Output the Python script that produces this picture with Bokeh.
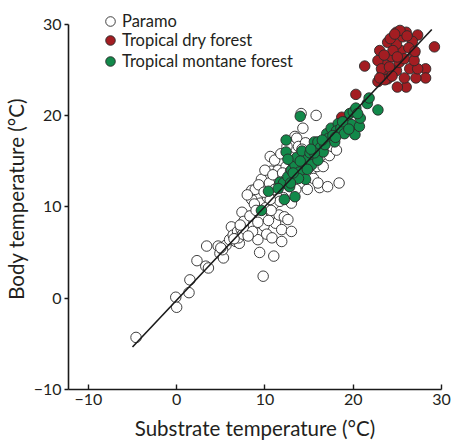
from bokeh.plotting import figure
from bokeh.models import Range1d, Legend, LegendItem, FixedTicker
from bokeh.embed import file_html
from bokeh.resources import INLINE

# ---- data ----
paramo_x = [-4.6, -0.1, 0.0, 1.5, 1.4, 2.3, 3.4, 3.3, 4.7, 4.9, 5.3, 5.6, 5.2, 6.2, 6.0, 6.4, 6.7, 6.9, 7.1, 7.3,
            7.0, 7.5, 7.8, 7.4, 7.9, 8.2, 8.5, 8.5, 8.7, 8.9, 9.2, 9.4, 9.8, 9.6, 9.5, 9.7, 9.9, 10.1, 10.2, 10.3,
            10.5, 10.6, 10.7, 10.8, 11.0, 11.1, 11.0, 11.2, 11.4, 11.5, 11.6, 11.8, 11.9, 11.9, 12.1, 12.2, 12.4, 12.6, 12.5, 12.7,
            13.0, 13.0, 13.2, 13.4, 13.3, 13.6, 13.8, 14.1, 14.3, 14.0, 14.4, 14.6, 14.8, 15.0, 15.2, 15.5, 15.8, 15.6, 15.9, 16.2,
            16.4, 16.6, 16.8, 17.1, 17.3, 17.6, 18.1, 18.4, 8.0, 8.8, 9.3, 10.0, 10.9, 12.0, 12.9, 7.6, 6.5, 8.3, 9.6, 10.4,
            11.3, 11.7, 9.0, 10.6, 12.3, 13.5, 14.9, 16.0, 7.2, 8.6, 9.9, 11.1, 12.8, 14.2, 15.3, 10.7, 9.2, 8.1, 5.0, 3.6]
paramo_y = [-4.3, 0.1, -1.0, 2.0, 0.6, 4.1, 5.7, 3.5, 5.7, 4.9, 4.4, 5.8, 5.3, 7.8, 6.4, 6.9, 6.2, 7.3, 6.0, 7.6,
            6.6, 7.0, 8.3, 9.4, 7.4, 8.6, 10.8, 11.8, 7.9, 11.9, 6.4, 5.0, 2.4, 13.0, 10.4, 8.9, 7.9, 9.9, 7.0, 11.0,
            12.6, 15.5, 13.9, 6.6, 4.6, 15.1, 10.3, 8.2, 12.1, 14.0, 9.1, 15.8, 6.2, 7.5, 11.0, 8.9, 14.4, 8.6, 16.6, 12.3,
            7.3, 10.4, 15.3, 17.7, 13.4, 17.5, 16.6, 20.2, 18.6, 12.6, 14.4, 17.0, 11.9, 15.6, 13.6, 13.1, 20.0, 16.2, 14.4, 12.1,
            15.6, 14.4, 17.3, 12.2, 15.6, 16.6, 16.2, 12.6, 11.3, 10.3, 12.4, 14.0, 13.5, 13.7, 13.9, 8.4, 6.5, 9.0, 9.0, 8.5,
            11.2, 10.6, 9.6, 10.8, 12.9, 11.9, 14.2, 12.6, 8.0, 7.3, 11.6, 11.9, 15.5, 16.3, 14.8, 9.6, 8.3, 6.8, 5.5, 3.3]

dry_x = [20.3, 21.3, 18.7, 22.8, 23.0, 24.9, 26.0, 27.3, 26.7, 29.2, 23.9, 24.3, 25.4, 26.9, 28.2, 28.2, 27.1, 26.0, 25.0, 25.8,
         26.4, 27.3, 23.3, 23.9, 23.7, 24.9, 25.2, 25.8, 26.9, 24.9, 25.6, 22.8, 23.2, 24.5, 25.3, 24.2, 23.5, 24.1, 26.3, 27.0,
         25.0, 23.6, 24.4, 26.1, 23.0, 24.7]
dry_y = [22.3, 25.4, 19.8, 23.7, 27.1, 29.1, 29.1, 28.8, 28.1, 27.5, 28.0, 26.4, 27.1, 26.8, 25.1, 24.1, 24.1, 23.1, 23.1, 24.1,
         25.1, 25.1, 24.6, 24.0, 25.5, 24.9, 25.8, 26.2, 26.0, 27.8, 28.6, 26.0, 25.1, 27.1, 29.3, 28.4, 26.6, 25.3, 27.4, 27.0,
         26.4, 23.9, 24.3, 28.7, 24.1, 28.9]

montane_x = [9.6, 10.4, 11.7, 12.2, 13.4, 12.4, 12.4, 14.0, 12.1, 12.6, 13.0, 13.0, 13.4, 13.6, 13.9, 14.2, 14.6, 14.5, 14.9, 15.1,
             15.3, 15.6, 16.0, 16.0, 16.3, 16.6, 17.0, 17.2, 17.5, 17.9, 18.3, 18.1, 18.6, 19.0, 19.3, 19.6, 19.8, 20.2, 20.0, 20.3,
             20.7, 20.8, 20.5, 21.6, 21.8, 22.8, 12.8, 13.8, 14.8, 15.6, 16.8, 17.7, 18.8, 12.9, 14.0, 15.2, 16.5, 18.0, 19.5, 13.2,
             11.5, 12.6]
montane_y = [9.6, 11.7, 12.7, 10.8, 11.1, 17.3, 16.0, 19.9, 12.6, 13.3, 15.0, 14.0, 14.6, 15.4, 13.8, 16.1, 13.0, 14.7, 15.3, 15.9,
             14.6, 17.1, 17.1, 15.1, 16.5, 16.0, 18.0, 17.5, 18.6, 17.1, 19.1, 18.3, 18.6, 18.0, 19.4, 20.2, 19.0, 17.9, 20.4, 20.8,
             18.8, 19.7, 20.2, 21.3, 21.9, 20.6, 12.2, 13.1, 14.1, 15.9, 16.8, 17.8, 19.3, 12.6, 15.0, 16.3, 17.3, 17.6, 18.5, 13.7,
             12.0, 15.2]

fit_x = [-5.0, 28.9]
fit_slope = 1.025
fit_intercept = -0.22

ticks = [-10, 0, 10, 20, 30]
tick_labels = {-10: "\u221210", 0: "0", 10: "10", 20: "20", 30: "30"}

series_names = ["Paramo", "Tropical dry forest", "Tropical montane forest"]

FONT = "Lato"
TXT = "#231f20"

p = figure(width=451, height=442, output_backend="svg", toolbar_location=None,
           x_range=Range1d(-12.25, 30.0), y_range=Range1d(-10, 31.7),
           min_border_left=66, min_border_right=10, min_border_top=8, min_border_bottom=51)
p.outline_line_color = None
p.xgrid.visible = False
p.ygrid.visible = False
p.background_fill_color = "white"

pr = p.scatter(paramo_x, paramo_y, size=10.5, marker="circle", fill_color="white",
               line_color="#2a2a2a", line_width=0.9)
dr = p.scatter(dry_x, dry_y, size=10.5, marker="circle", fill_color="#a31d22",
               line_color="#2a2a2a", line_width=0.9)
mr = p.scatter(montane_x, montane_y, size=10.5, marker="circle", fill_color="#12894a",
               line_color="#2a2a2a", line_width=0.9)
fit_y = [fit_slope * v + fit_intercept for v in fit_x]
p.line(fit_x, fit_y, line_color="#1a1a1a", line_width=1.6)

for ax in (p.xaxis[0], p.yaxis[0]):
    ax.ticker = FixedTicker(ticks=ticks)
    ax.major_label_overrides = tick_labels
    ax.minor_tick_line_color = None
    ax.axis_line_width = 1.6
    ax.axis_line_color = "#1a1a1a"
    ax.major_tick_line_width = 1.4
    ax.major_tick_line_color = "#1a1a1a"
    ax.major_label_text_font = FONT
    ax.major_label_text_font_size = "16px"
    ax.major_label_text_color = TXT
    ax.axis_label_text_font = FONT
    ax.axis_label_text_font_size = "20.5px"
    ax.axis_label_text_font_style = "normal"
    ax.axis_label_text_color = TXT

p.yaxis.bounds = (-10, 30)

p.xaxis.axis_label = "Substrate temperature (°C)"
p.xaxis.major_tick_in = 5
p.xaxis.major_tick_out = 0
p.xaxis.major_label_standoff = 4
p.xaxis.axis_label_standoff = 8

p.yaxis.axis_label = "Body temperature (°C)"
p.yaxis.major_tick_in = 0
p.yaxis.major_tick_out = 4
p.yaxis.major_label_standoff = 3
p.yaxis.axis_label_standoff = 3

# one single-item legend per series, stacked about 20 px apart
for name, rend, vy in zip(series_names, [pr, dr, mr], [355, 336, 315]):
    lg = Legend(items=[LegendItem(label=name, renderers=[rend])],
                location=(30, vy), orientation="vertical",
                glyph_width=24, glyph_height=26, label_height=20, spacing=0,
                label_standoff=0, padding=0, margin=0,
                border_line_color=None, background_fill_alpha=0,
                label_text_font=FONT, label_text_font_size="16.5px", label_text_color=TXT)
    p.add_layout(lg)

open("out.html", "w").write(file_html(p, INLINE))
